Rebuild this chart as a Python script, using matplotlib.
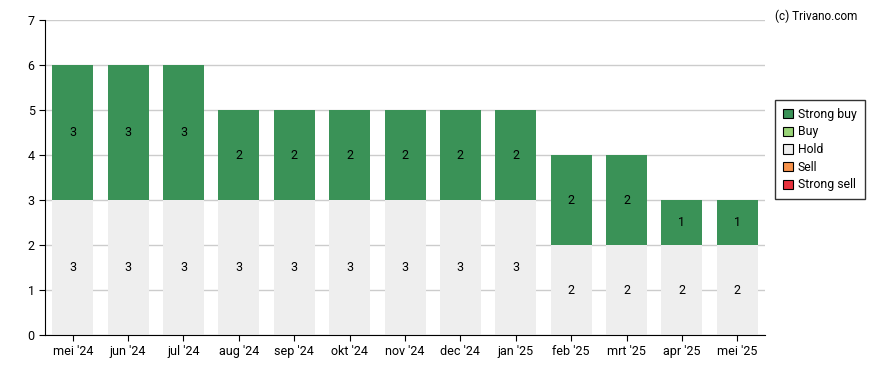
import matplotlib.pyplot as plt
import numpy as np

plt.rcParams['font.family'] = ['Roboto', 'DejaVu Sans']

months = ["mei '24", "jun '24", "jul '24", "aug '24", "sep '24", "okt '24", "nov '24",
          "dec '24", "jan '25", "feb '25", "mrt '25", "apr '25", "mei '25"]
strong_buy = [3, 3, 3, 2, 2, 2, 2, 2, 2, 2, 2, 1, 1]
buy = [0] * 13
hold = [3, 3, 3, 3, 3, 3, 3, 3, 3, 2, 2, 2, 2]
sell = [0] * 13
strong_sell = [0] * 13

colors = {
    'Strong buy': '#3a9257',
    'Buy': '#99d477',
    'Hold': '#eeeeee',
    'Sell': '#f7934c',
    'Strong sell': '#e8313d',
}

fig = plt.figure(figsize=(8.88, 3.7), dpi=100)
ax = fig.add_axes([0.0507, 0.0946, 0.8108, 0.8513])

x = np.arange(len(months))
w = 0.74
series = [('Strong sell', strong_sell), ('Sell', sell), ('Hold', hold),
          ('Buy', buy), ('Strong buy', strong_buy)]
bottom = np.zeros(len(months))
for name, vals in series:
    vals = np.array(vals)
    ax.bar(x, vals, w, bottom=bottom, color=colors[name], zorder=2)
    for xi, b, v in zip(x, bottom, vals):
        if v > 0:
            ax.text(xi, b + v / 2, str(v), ha='center', va='center', fontsize=9, zorder=3)
    bottom += vals

ax.set_xlim(-0.5, len(months) - 0.5)
ax.set_ylim(0, 7)
ax.set_yticks(range(8))
ax.set_xticks(x)
ax.set_xticklabels(months)
ax.tick_params(labelsize=9, length=4)
ax.grid(axis='y', color='#cccccc', linewidth=1, zorder=0)
for s in ['top', 'right']:
    ax.spines[s].set_visible(False)

handles = [plt.Rectangle((0, 0), 1, 1, facecolor=colors[n], edgecolor='black', linewidth=0.8)
           for n in ['Strong buy', 'Buy', 'Hold', 'Sell', 'Strong sell']]
leg = fig.legend(handles, ['Strong buy', 'Buy', 'Hold', 'Sell', 'Strong sell'],
                 loc='upper left', bbox_to_anchor=(0.873, 0.73), fontsize=8.8,
                 frameon=True, fancybox=False, edgecolor='black', borderaxespad=0,
                 handlelength=0.8, handleheight=0.8, handletextpad=0.4,
                 labelspacing=0.38, borderpad=0.65)
leg.get_frame().set_linewidth(1)

fig.text(0.966, 0.975, '(c) Trivano.com', ha='right', va='top', fontsize=8.5)

fig.savefig('out.png', dpi=100)
